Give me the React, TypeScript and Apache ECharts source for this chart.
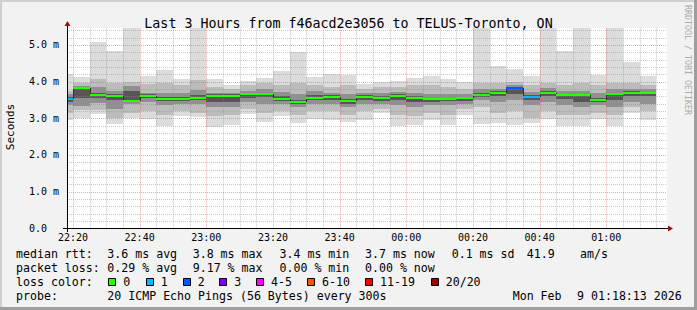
import React, { useEffect, useRef } from "react";
import * as echarts from "echarts";

// ---- data ----
const slots = [
  "22:15", "22:20", "22:25", "22:30", "22:35", "22:40", "22:45", "22:50", "22:55",
  "23:00", "23:05", "23:10", "23:15", "23:20", "23:25", "23:30", "23:35", "23:40",
  "23:45", "23:50", "23:55", "00:00", "00:05", "00:10", "00:15", "00:20", "00:25",
  "00:30", "00:35", "00:40", "00:45", "00:50", "00:55", "01:00", "01:05", "01:10",
];
const maxV = [4.21, 4.13, 5.09, 4.84, 5.45, 4.15, 4.32, 4.07, 5.45, 4.07, 3.91, 4.01, 4.11, 4.3, 4.8, 4.12, 4.2, 4.19, 3.93, 4.0, 4.02, 4.11, 4.14, 4.07, 4.0, 5.45, 4.41, 4.34, 4.14, 5.45, 4.83, 5.45, 4.18, 5.45, 4.52, 4.15];
const p90 = [3.75, 3.95, 4.08, 3.95, 4.0, 3.92, 3.95, 3.9, 4.05, 3.85, 3.8, 3.9, 3.95, 3.9, 3.95, 3.9, 3.85, 3.9, 3.8, 3.85, 3.85, 3.9, 3.9, 3.85, 3.8, 3.95, 3.95, 4.0, 3.9, 3.95, 3.9, 3.95, 3.9, 3.95, 3.95, 3.9];
const p75 = [3.65, 3.88, 3.85, 3.75, 3.88, 3.7, 3.7, 3.7, 3.78, 3.7, 3.7, 3.75, 3.8, 3.72, 3.65, 3.75, 3.7, 3.65, 3.68, 3.68, 3.72, 3.7, 3.65, 3.65, 3.65, 3.8, 3.8, 3.9, 3.72, 3.82, 3.75, 3.75, 3.7, 3.8, 3.8, 3.8];
const p60 = [3.57, 3.84, 3.7, 3.66, 3.75, 3.65, 3.58, 3.58, 3.62, 3.65, 3.65, 3.7, 3.7, 3.6, 3.5, 3.62, 3.62, 3.53, 3.62, 3.6, 3.65, 3.6, 3.56, 3.56, 3.58, 3.7, 3.73, 3.86, 3.62, 3.73, 3.66, 3.67, 3.56, 3.7, 3.73, 3.72];
const median = [3.53, 3.83, 3.64, 3.61, 3.48, 3.61, 3.53, 3.53, 3.56, 3.61, 3.61, 3.66, 3.66, 3.53, 3.44, 3.56, 3.59, 3.48, 3.59, 3.55, 3.61, 3.55, 3.52, 3.52, 3.55, 3.64, 3.7, 3.82, 3.59, 3.7, 3.62, 3.64, 3.5, 3.66, 3.69, 3.69];
const p40 = [3.45, 3.55, 3.55, 3.5, 3.45, 3.55, 3.48, 3.47, 3.5, 3.45, 3.45, 3.55, 3.58, 3.48, 3.38, 3.5, 3.5, 3.4, 3.5, 3.48, 3.5, 3.45, 3.45, 3.47, 3.48, 3.58, 3.6, 3.65, 3.5, 3.6, 3.52, 3.45, 3.45, 3.5, 3.6, 3.6];
const p25 = [3.35, 3.32, 3.42, 3.25, 3.4, 3.45, 3.35, 3.38, 3.4, 3.3, 3.3, 3.45, 3.4, 3.38, 3.3, 3.4, 3.38, 3.3, 3.4, 3.38, 3.35, 3.3, 3.35, 3.35, 3.4, 3.5, 3.45, 3.5, 3.35, 3.45, 3.35, 3.3, 3.35, 3.3, 3.45, 3.4];
const p10 = [3.15, 3.22, 3.22, 3.0, 3.15, 3.2, 3.1, 3.2, 3.15, 3.05, 3.1, 3.25, 3.15, 3.2, 3.1, 3.2, 3.2, 3.1, 3.2, 3.25, 3.1, 3.05, 3.15, 3.1, 3.25, 3.3, 3.15, 3.2, 3.0, 3.2, 3.1, 3.1, 3.15, 3.1, 3.3, 3.2];
const minV = [2.95, 3.0, 3.12, 2.84, 3.02, 2.97, 2.79, 3.05, 3.03, 2.77, 2.82, 3.12, 2.9, 3.06, 2.87, 2.99, 2.96, 2.91, 2.95, 3.14, 2.8, 2.82, 2.95, 2.82, 3.09, 2.85, 2.86, 2.82, 2.86, 2.98, 2.8, 2.8, 2.97, 2.8, 3.14, 2.95];
const lossIdx = [1, 0, 0, 0, 0, 0, 0, 0, 0, 0, 0, 0, 0, 0, 0, 0, 0, 0, 0, 0, 0, 0, 0, 0, 0, 0, 0, 2, 1, 0, 0, 0, 0, 0, 0, 0];

const lossLabels = ["0", "1", "2", "3", "4-5", "6-10", "11-19", "20/20"];
const lossColors = ["#26ff00", "#00b8ff", "#0059ff", "#7e00ff", "#ff00ff", "#ff5500", "#ff0000", "#a10000"];

const xTickLabels = ["22:20", "22:40", "23:00", "23:20", "23:40", "00:00", "00:20", "00:40", "01:00"];
const yTickValues = [0, 1, 2, 3, 4, 5];

const titleText = "Last 3 Hours from f46acd2e3056 to TELUS-Toronto, ON";
const rttStats = ["3.6 ms avg", "3.8 ms max", "3.4 ms min", "3.7 ms now", "0.1 ms sd", "41.9", "am/s"];
const lossStats = ["0.29 % avg", "9.17 % max", "0.00 % min", "0.00 % now"];
const probeText = "20 ICMP Echo Pings (56 Bytes) every 300s";
const dateParts = ["Mon Feb", "9 01:18:13 2026"];

// ---- helpers / layout ----
const FONT = '"DejaVu Sans Mono", monospace';
const toMin = (s: string) => {
  const [h, m] = s.split(":").map(Number);
  const hh = h < 12 ? h + 24 : h;
  return hh * 60 + m - (22 * 60 + 20);
};
const X_MIN = -(1 + 47 / 60); // 22:18:13
const X_MAX = 180 + X_MIN; // 01:18:13
const Y_MAX = 5.45;
const STEP = 5;

const bandColors = ["#dcdcdc", "#bcbcbc", "#909090", "#565656"];
const rttX = [107.3, 192.7, 279.5, 365, 451.7, 526.7, 580];
const lossX = [107.3, 192.7, 279.5, 365];
const boxX = [108.3, 145.7, 182.7, 219.3, 256, 307, 365, 430.7];
const rowY = [254.3, 268.3, 282.3, 296.3];
const LFS = 11.6;

function buildOption() {
  const smokeData = slots.map((s, i) => [toMin(s), maxV[i], p90[i], p75[i], p60[i], p40[i], p25[i], p10[i], minV[i]]);
  const medianData = slots.map((s, i) => [toMin(s), median[i], lossIdx[i], i > 0 ? median[i - 1] : -1]);

  const gridData: number[][] = [];
  for (let k = 0; k * 5 < X_MAX; k++) gridData.push([0, k * 5, k % 4 === 0 ? 1 : 0]);
  for (let k = 1; k * 0.2 < Y_MAX; k++) gridData.push([1, Math.round(k * 2) / 10, k % 5 === 0 ? 1 : 0]);

  const txt = (text: string, x: number, y: number, extra: any = {}) => ({
    type: "text",
    x,
    y,
    z: 100,
    style: { text, fill: "#000", fontSize: LFS, fontFamily: FONT, verticalAlign: "middle", align: "left", ...extra },
  });

  const graphic: any[] = [
    { type: "rect", z: 100, shape: { x: 0, y: 0, width: 697, height: 2 }, style: { fill: "#cfcfcf" } },
    { type: "rect", z: 100, shape: { x: 0, y: 0, width: 2, height: 310 }, style: { fill: "#cfcfcf" } },
    { type: "rect", z: 100, shape: { x: 694, y: 0, width: 3, height: 310 }, style: { fill: "#9e9e9e" } },
    { type: "rect", z: 100, shape: { x: 0, y: 307, width: 697, height: 3 }, style: { fill: "#9e9e9e" } },
    // axes
    { type: "line", z: 100, shape: { x1: 67.5, y1: 25, x2: 67.5, y2: 232 }, style: { stroke: "#000", lineWidth: 1 } },
    { type: "line", z: 100, shape: { x1: 63, y1: 228.5, x2: 669, y2: 228.5 }, style: { stroke: "#000", lineWidth: 1 } },
    { type: "polygon", z: 100, shape: { points: [[64.5, 26], [67.5, 21], [70.5, 26]] }, style: { fill: "#a01010" } },
    { type: "polygon", z: 100, shape: { points: [[668, 225.5], [673, 228.5], [668, 231.5]] }, style: { fill: "#a01010" } },
    // side labels
    {
      type: "text", z: 100, x: 10, y: 127, rotation: Math.PI / 2,
      style: { text: "Seconds", fill: "#000", fontSize: 11, fontFamily: FONT, align: "center", verticalAlign: "middle" },
    },
    {
      type: "text", z: 100, x: 687.5, y: 60, rotation: -Math.PI / 2,
      style: { text: "RRDTOOL / TOBI OETIKER", fill: "#ababab", fontSize: 8.3, fontFamily: FONT, align: "center", verticalAlign: "middle" },
    },
    // legend
    txt("median rtt:", 16, rowY[0]),
    ...rttStats.map((s, i) => txt(s, rttX[i], rowY[0])),
    txt("packet loss:", 16, rowY[1]),
    ...lossStats.map((s, i) => txt(s, lossX[i], rowY[1])),
    txt("loss color:", 16, rowY[2]),
    ...lossLabels.flatMap((l, i) => [
      { type: "rect", z: 100, shape: { x: Math.round(boxX[i]) + 0.5, y: 278.5, width: 7, height: 7 }, style: { fill: lossColors[i], stroke: "#000", lineWidth: 1 } },
      txt(l, boxX[i] + 15, rowY[2]),
    ]),
    txt("probe:", 16, rowY[3]),
    txt(probeText, 107.3, rowY[3]),
    txt(dateParts[0], 512.7, rowY[3]),
    txt(dateParts[1], 577, rowY[3]),
  ];

  const xLabelVals = xTickLabels.map(toMin);

  return {
    animation: false,
    backgroundColor: "#f2f2f2",
    title: {
      text: titleText,
      left: "center",
      top: 12,
      textStyle: { fontFamily: FONT, fontSize: 13.3, fontWeight: "normal", color: "#000" },
    },
    grid: { left: 67, top: 28.33, width: 600, height: 200, show: true, backgroundColor: "#ffffff", borderWidth: 0 },
    xAxis: {
      type: "value",
      min: X_MIN,
      max: X_MAX,
      axisLine: { show: false },
      axisTick: { show: false },
      splitLine: { show: false },
      axisLabel: {
        customValues: xLabelVals,
        formatter: (v: number) => {
          const i = xLabelVals.findIndex((t) => Math.abs(t - v) < 0.01);
          return i >= 0 ? xTickLabels[i] : "";
        },
        fontFamily: FONT,
        fontSize: 10,
        color: "#000",
        margin: 4,
      },
    },
    yAxis: {
      type: "value",
      min: 0,
      max: Y_MAX,
      interval: 1,
      axisLine: { show: false },
      axisTick: { show: false },
      splitLine: { show: false },
      axisLabel: {
        showMaxLabel: false,
        align: "left",
        margin: 38,
        fontFamily: FONT,
        fontSize: 10,
        color: "#000",
        formatter: (v: number) => {
          if (!yTickValues.includes(v)) return "";
          return v === 0 ? "0.0" : v.toFixed(1) + " m";
        },
      },
    },
    graphic,
    series: [
      {
        type: "custom",
        name: "smoke",
        z: 2,
        data: smokeData,
        renderItem: (params: any, api: any) => {
          const cs = params.coordSys;
          const xs = api.value(0);
          const x0 = Math.round(Math.max(api.coord([xs, 0])[0], cs.x));
          const x1 = Math.round(Math.min(api.coord([xs + STEP, 0])[0], cs.x + cs.width));
          const yOf = (v: number) => Math.round(api.coord([0, Math.min(v, Y_MAX)])[1]);
          const band = (hiDim: number, loDim: number, color: string) => {
            const yh = yOf(api.value(hiDim));
            const yl = yOf(api.value(loDim));
            return { type: "rect", shape: { x: x0, y: yh, width: x1 - x0, height: yl - yh }, style: { fill: color } };
          };
          return {
            type: "group",
            children: [band(1, 8, bandColors[0]), band(2, 7, bandColors[1]), band(3, 6, bandColors[2]), band(4, 5, bandColors[3])],
          };
        },
      },
      {
        type: "custom",
        name: "grid",
        z: 3,
        data: gridData,
        renderItem: (params: any, api: any) => {
          const cs = params.coordSys;
          const kind = api.value(0);
          const v = api.value(1);
          const stroke = api.value(2) ? "rgba(224,80,80,0.5)" : "rgba(143,143,143,0.5)";
          if (kind === 0) {
            const x = Math.round(api.coord([v, 0])[0]) + 0.5;
            return { type: "line", shape: { x1: x, y1: cs.y, x2: x, y2: cs.y + cs.height }, style: { stroke, lineWidth: 1, lineDash: [1, 1] } };
          }
          const y = Math.round(api.coord([0, v])[1]) + 0.5;
          return { type: "line", shape: { x1: cs.x, y1: y, x2: cs.x + cs.width, y2: y }, style: { stroke, lineWidth: 1, lineDash: [1, 1] } };
        },
      },
      {
        type: "custom",
        name: "median",
        z: 4,
        data: medianData,
        renderItem: (params: any, api: any) => {
          const cs = params.coordSys;
          const xs = api.value(0);
          const x0 = Math.round(Math.max(api.coord([xs, 0])[0], cs.x));
          const x1 = Math.round(Math.min(api.coord([xs + STEP, 0])[0], cs.x + cs.width));
          const y = Math.round(api.coord([0, api.value(1)])[1]);
          const color = lossColors[api.value(2)];
          const children: any[] = [];
          const prev = api.value(3);
          if (prev > 0) {
            const yp = Math.round(api.coord([0, prev])[1]);
            children.push({ type: "line", shape: { x1: x0 + 0.5, y1: yp, x2: x0 + 0.5, y2: y }, style: { stroke: "#333333", lineWidth: 1 } });
          }
          children.push({ type: "rect", shape: { x: x0, y: y - 1, width: x1 - x0, height: 2 }, style: { fill: color } });
          return { type: "group", children };
        },
      },
    ],
  };
}

export default function App() {
  const ref = useRef<HTMLDivElement>(null);
  useEffect(() => {
    document.body.style.margin = "0";
    const chart = echarts.init(ref.current as HTMLDivElement, null, { renderer: "svg" });
    chart.setOption(buildOption() as any);
    return () => chart.dispose();
  }, []);
  return <div ref={ref} style={{ width: 697, height: 310 }} />;
}
